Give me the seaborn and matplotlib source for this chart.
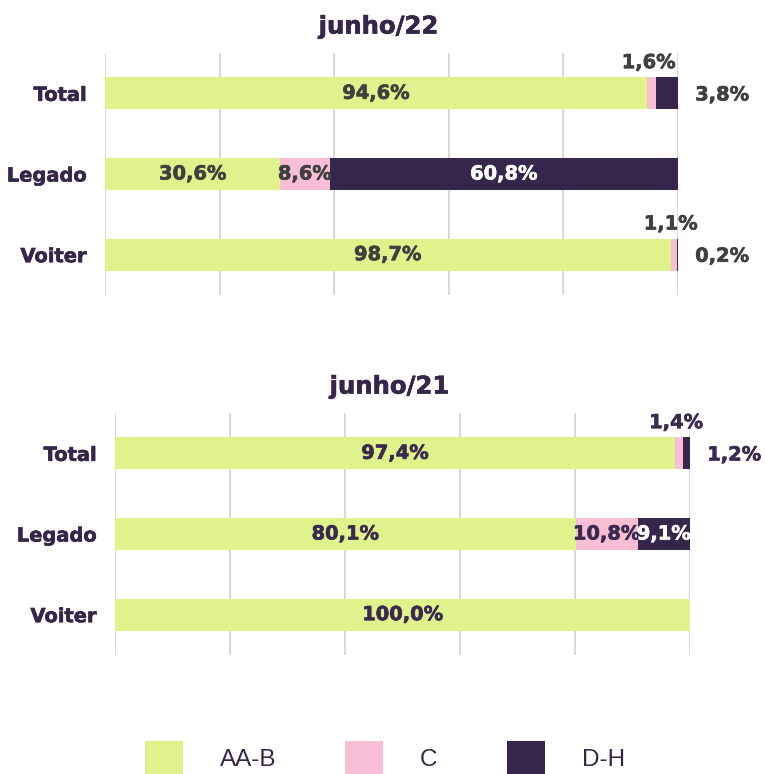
import matplotlib
matplotlib.use("Agg")
import matplotlib.pyplot as plt
import matplotlib.patheffects as pe
import seaborn as sns
import pandas as pd
import numpy as np
from matplotlib.patches import Patch

sns.set_theme(style="white")
plt.rcParams['font.family'] = ['DejaVu Sans']

categories = ["Total", "Legado", "Voiter"]
series = ["AA-B", "C", "D-H"]
titles = ["junho/22", "junho/21"]
jun22_aab = [94.6, 30.6, 98.7]
jun22_c = [1.6, 8.6, 1.1]
jun22_dh = [3.8, 60.8, 0.2]
jun21_aab = [97.4, 80.1, 100.0]
jun21_c = [1.4, 10.8, 0.0]
jun21_dh = [1.2, 9.1, 0.0]

colors = {"AA-B": "#dff28b", "C": "#f8bed5", "D-H": "#37264c"}
PURPLE = "#35264a"

fig = plt.figure(figsize=(7.65, 7.74), dpi=100)
ax_top = fig.add_axes([105/765, 1-295/774, 573/765, 242/774])
ax_bot = fig.add_axes([115/765, 1-655/774, 575/765, 242/774])

panels = [
    (ax_top, titles[0], jun22_aab, jun22_c, jun22_dh, "#404040"),
    (ax_bot, titles[1], jun21_aab, jun21_c, jun21_dh, "#3b2a50"),
]


def heavy(color):
    return [pe.withStroke(linewidth=0.45, foreground=color)]


def fmt(v):
    return f"{v:.1f}".replace(".", ",") + "%"


for ax, title, aab, c, dh, tcol in panels:
    df = pd.DataFrame({"cat": categories, "AA-B": aab, "C": c, "D-H": dh})
    df["cum_aab"] = df["AA-B"]
    df["cum_c"] = df["AA-B"] + df["C"]
    df["cum_dh"] = df["AA-B"] + df["C"] + df["D-H"]
    for col, s in [("cum_dh", "D-H"), ("cum_c", "C"), ("cum_aab", "AA-B")]:
        sns.barplot(data=df, y="cat", x=col, color=colors[s], orient="h",
                    width=0.4, ax=ax, saturation=1, linewidth=0, zorder=3)
    ax.set_xlim(0, 100)
    ax.set_ylim(2.5, -0.5)
    ax.set_xticks([0, 20, 40, 60, 80, 100])
    ax.set_xticklabels([])
    ax.grid(axis="x", color="#d9d9d9", linewidth=1.5, zorder=0)
    ax.grid(axis="y", visible=False)
    for sp in ax.spines.values():
        sp.set_visible(False)
    ax.tick_params(axis="both", length=0)
    ax.set_xlabel("")
    ax.set_ylabel("")
    ax.set_yticks(range(len(categories)))
    ax.set_yticklabels(categories, fontsize=14, fontweight="bold", color=PURPLE)
    for t in ax.get_yticklabels():
        t.set_path_effects(heavy(PURPLE))
    ax.tick_params(axis="y", pad=13)
    ttl = ax.set_title(title, fontsize=17.5, fontweight="bold", color=PURPLE,
                       pad=14, x=0.477)
    ttl.set_path_effects(heavy(PURPLE))

    for i in range(len(categories)):
        a, b, d = aab[i], c[i], dh[i]
        kw = dict(fontsize=14, fontweight="bold", zorder=5, clip_on=False)
        ax.text(a/2, i, fmt(a), ha="center", va="center", color=tcol,
                path_effects=heavy(tcol), **kw)
        if b >= 5:
            ax.text(a + b/2, i, fmt(b), ha="center", va="center", color=tcol,
                    path_effects=heavy(tcol), **kw)
        elif b > 0:
            ax.text(a + b/2 - 0.5, i - 0.38, fmt(b), ha="center", va="center",
                    color=tcol, path_effects=heavy(tcol), **kw)
        if d >= 5:
            ax.text(a + b + d/2, i, fmt(d), ha="center", va="center",
                    color="white", path_effects=heavy("white"), **kw)
        elif d > 0:
            ax.text(a + b + d + 3, i + 0.02, fmt(d), ha="left", va="center",
                    color=tcol, path_effects=heavy(tcol), **kw)

handles = [Patch(facecolor=colors[s], edgecolor="none", label=s) for s in series]
leg = fig.legend(handles=handles, loc="center", bbox_to_anchor=(0.503, 0.021),
                 ncol=3, frameon=False, handlelength=1.56,
                 handleheight=1.7, handletextpad=1.52, columnspacing=2.84,
                 prop={"family": "Liberation Sans", "size": 17.5})
for t in leg.get_texts():
    t.set_color(PURPLE)

fig.savefig("out.png", dpi=100)
